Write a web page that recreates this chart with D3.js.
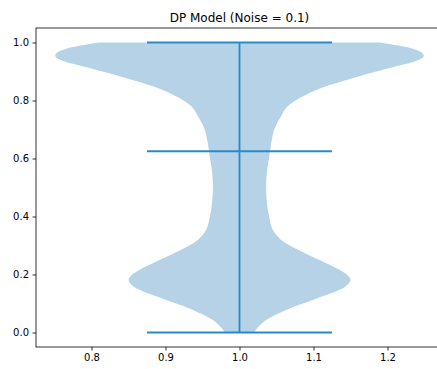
<!DOCTYPE html>
<html>
<head>
<meta charset="utf-8">
<script src="https://cdn.jsdelivr.net/npm/d3@7"></script>
<style>
    body { margin: 0; background: #fff; }
    svg { display: block; font-family: 'DejaVu Sans', sans-serif; }
</style>
</head>
<body>
<div id="chart"></div>
<script>
// violin outline: value levels and half-width of the density (in x units)
const levels = [0.0, 0.009, 0.043, 0.078, 0.112, 0.147, 0.165, 0.181, 0.197, 0.216, 0.25, 0.285, 0.32, 0.354, 0.40, 0.45, 0.515, 0.573, 0.603, 0.655, 0.70, 0.745, 0.78, 0.815, 0.849, 0.884, 0.918, 0.938, 0.953, 0.966, 0.978, 0.988, 1.0];
const halfWidths = [0.020, 0.022, 0.036, 0.063, 0.099, 0.135, 0.146, 0.150, 0.146, 0.135, 0.108, 0.079, 0.056, 0.045, 0.040, 0.037, 0.036, 0.038, 0.040, 0.043, 0.047, 0.056, 0.065, 0.086, 0.117, 0.162, 0.212, 0.240, 0.249, 0.246, 0.235, 0.218, 0.189];

const position = 1.0;
const statLines = [0.0, 0.625, 1.0];   // min, median, max
const statHalfWidth = 0.125;

const xTicks = [0.8, 0.9, 1.0, 1.1, 1.2];
const yTicks = [0.0, 0.2, 0.4, 0.6, 0.8, 1.0];
const title = 'DP Model (Noise = 0.1)';

const width = 437,
    height = 369,
    margins = { left: 36, top: 28, right: -6, bottom: 22 };

const innerW = width - margins.left - margins.right,
    innerH = height - margins.top - margins.bottom;

const svg = d3.select('#chart').append('svg')
    .attr('width', width)
    .attr('height', height);

const x = d3.scaleLinear().domain([0.725, 1.275]).range([0, innerW]);
const y = d3.scaleLinear().domain([-0.05, 1.05]).range([innerH, 0]);

const g = svg.append('g')
    .attr('transform', 'translate(' + margins.left + ',' + margins.top + ')');

const pts = levels.map((v, i) => ({ v: v, w: halfWidths[i] }));

const area = d3.area()
    .y(d => y(d.v))
    .x0(d => x(position - d.w))
    .x1(d => x(position + d.w))
    .curve(d3.curveCatmullRom);

g.append('path')
    .datum(pts)
    .attr('d', area)
    .attr('fill', '#1f77b4')
    .attr('fill-opacity', 0.33);

const lineColor = '#2a8ac8';

g.selectAll('.stat')
    .data(statLines)
    .enter().append('line')
    .attr('class', 'stat')
    .attr('x1', x(position - statHalfWidth))
    .attr('x2', x(position + statHalfWidth))
    .attr('y1', d => y(d))
    .attr('y2', d => y(d))
    .attr('stroke', lineColor)
    .attr('stroke-width', 1.8);

g.append('line')
    .attr('x1', x(position)).attr('x2', x(position))
    .attr('y1', y(statLines[0])).attr('y2', y(statLines[2]))
    .attr('stroke', lineColor)
    .attr('stroke-width', 1.8);

// Axises

const axisX = d3.axisBottom(x).tickValues(xTicks).tickFormat(d3.format('.1f')).tickSize(3.5).tickPadding(3.5);
const axisY = d3.axisLeft(y).tickValues(yTicks).tickFormat(d3.format('.1f')).tickSize(3.5).tickPadding(3.5);

const gx = g.append('g')
    .attr('transform', 'translate(0,' + innerH + ')')
    .call(axisX);
const gy = g.append('g').call(axisY);

[gx, gy].forEach(a => {
    a.select('.domain').remove();
    a.selectAll('.tick line').attr('stroke', '#000').attr('stroke-width', 0.8);
    a.selectAll('.tick text').attr('fill', '#000').style('font-size', '10px').style('font-family', 'DejaVu Sans');
});

// spines
g.append('rect')
    .attr('x', 0).attr('y', 0)
    .attr('width', innerW).attr('height', innerH)
    .attr('fill', 'none')
    .attr('stroke', '#000').attr('stroke-width', 0.8);

svg.append('text')
    .attr('x', margins.left + x(1.0))
    .attr('y', 21.5)
    .attr('text-anchor', 'middle')
    .style('font-size', '12px')
    .attr('fill', '#000')
    .text(title);
</script>
</body>
</html>
